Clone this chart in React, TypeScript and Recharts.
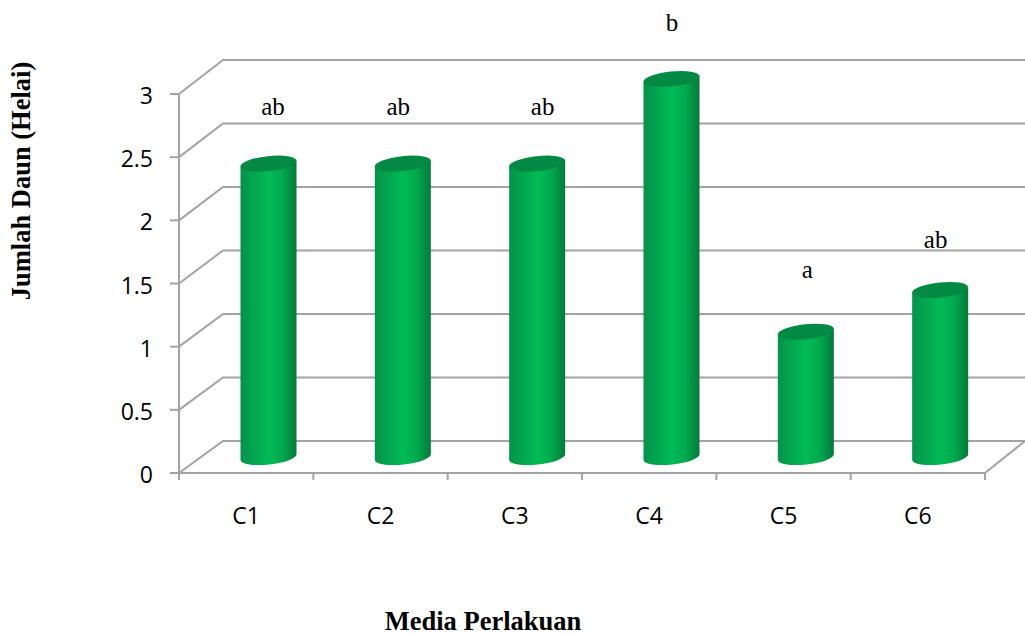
import React from 'react';
import { BarChart, Bar, XAxis, YAxis, CartesianGrid, LabelList } from 'recharts';

const categories = ['C1', 'C2', 'C3', 'C4', 'C5', 'C6'];
const leafCounts = [2.33, 2.33, 2.33, 3, 1, 1.33];
const letters = ['ab', 'ab', 'ab', 'b', 'a', 'ab'];
const yTicks = [0, 0.5, 1, 1.5, 2, 2.5, 3];

// hand placed notation letters, relative to the front top of each bar
const letterOffsets = [
  [27, -72],
  [18, -72],
  [28, -72],
  [23, -71],
  [24, -77],
  [18, -65],
];

const chartData = categories.map((name, i) => ({ name, value: leafCounts[i], letter: letters[i] }));

const GRID = '#a3a3a3';
const DEPTH_X = 44;
const DEPTH_Y = 32;
const FLOOR_Y = 473;
const BAND = 806 / categories.length;
const SERIF = '"Liberation Serif", serif';
const SANS = '"Open Sans", sans-serif';

// wall line: runs up the side wall then along the back, floor line also gets the right edge
const WallLine = (props: any) => {
  const { x1, y1, x2, y2 } = props;
  const isFloor = Math.abs(y1 - FLOOR_Y) < 1;
  // back wall is a touch taller than the front axis
  const rise = DEPTH_Y + ((FLOOR_Y - y1) / 379) * 2;
  return (
    <g fill="none" stroke={GRID} strokeWidth={2}>
      <polyline points={`${x1},${y1} ${x1 + DEPTH_X},${y1 - rise} ${x2 + 40},${y2 - rise}`} />
      {isFloor && <line x1={x2} y1={y2} x2={x2 + 40} y2={y2 - DEPTH_Y} />}
    </g>
  );
};

// tick marks sit on the category boundaries, the label in the middle
const CategoryTick = (props: any) => {
  const { x, payload, index } = props;
  const left = x - BAND / 2;
  const right = x + BAND / 2;
  return (
    <g>
      <line x1={left} y1={FLOOR_Y} x2={left} y2={FLOOR_Y + 7} stroke={GRID} strokeWidth={2} />
      {index === categories.length - 1 && (
        <line x1={right} y1={FLOOR_Y} x2={right} y2={FLOOR_Y + 7} stroke={GRID} strokeWidth={2} />
      )}
      <text x={x} y={FLOOR_Y + 51} textAnchor="middle" fill="#000" fontFamily={SANS} fontSize={23}>
        {payload.value}
      </text>
    </g>
  );
};

const Cylinder = (props: any) => {
  const { x, y, width, height } = props;
  const cx = x + width / 2 + 22.5;
  const rx = width / 2;
  const ry = 7.5;
  const top = y - 15;
  const bottom = y + height - 16;
  const tilt = 3;
  const body = [
    `M${cx - rx},${top + tilt}`,
    `L${cx - rx},${bottom + tilt}`,
    `A${rx},${ry} -6 0 0 ${cx + rx},${bottom - tilt}`,
    `L${cx + rx},${top - tilt}`,
    'Z',
  ].join(' ');
  return (
    <g>
      <path d={body} fill="url(#cylinderFill)" />
      <ellipse cx={cx} cy={top} rx={rx + 0.2} ry={ry} fill="#028a45" transform={`rotate(-6 ${cx} ${top})`} />
    </g>
  );
};

const LetterLabel = (props: any) => {
  const { x, y, width, value, index } = props;
  const [dx, dy] = letterOffsets[index];
  return (
    <text
      x={x + width / 2 + dx}
      y={y + dy + 8}
      textAnchor="middle"
      fontFamily={SERIF}
      fontSize={25}
      fill="#000"
    >
      {value}
    </text>
  );
};

export default function App() {
  return (
    <div style={{ position: 'absolute', left: 0, top: 0 }}>
      <BarChart
        width={1025}
        height={635}
        data={chartData}
        margin={{ top: 94, right: 40, bottom: 132, left: 0 }}
        barSize={56}
      >
        <defs>
          <linearGradient id="cylinderFill" x1="0" y1="0" x2="1" y2="0">
            <stop offset="0%" stopColor="#04924a" />
            <stop offset="50%" stopColor="#00bb55" />
            <stop offset="75%" stopColor="#01a94d" />
            <stop offset="100%" stopColor="#037a3c" />
          </linearGradient>
        </defs>
        <CartesianGrid horizontal={WallLine} vertical={false} />
        <XAxis
          dataKey="name"
          interval={0}
          tickLine={false}
          axisLine={{ stroke: GRID, strokeWidth: 2 }}
          tick={CategoryTick}
        />
        <YAxis
          width={179}
          domain={[0, 3]}
          ticks={yTicks}
          tickSize={9}
          tickMargin={17}
          axisLine={{ stroke: GRID, strokeWidth: 2 }}
          tickLine={{ stroke: GRID, strokeWidth: 2 }}
          tick={{ fill: '#000', fontFamily: SANS, fontSize: 23, dy: 2 }}
        />
        <Bar dataKey="value" shape={Cylinder} isAnimationActive={false}>
          <LabelList dataKey="letter" content={LetterLabel} />
        </Bar>
        <text
          x={0}
          y={0}
          transform="translate(30 181) rotate(-90)"
          textAnchor="middle"
          fontFamily={SERIF}
          fontWeight="bold"
          fontSize={26.5}
        >
          Jumlah Daun (Helai)
        </text>
        <text x={483} y={630} textAnchor="middle" fontFamily={SERIF} fontWeight="bold" fontSize={26.5}>
          Media Perlakuan
        </text>
      </BarChart>
    </div>
  );
}
